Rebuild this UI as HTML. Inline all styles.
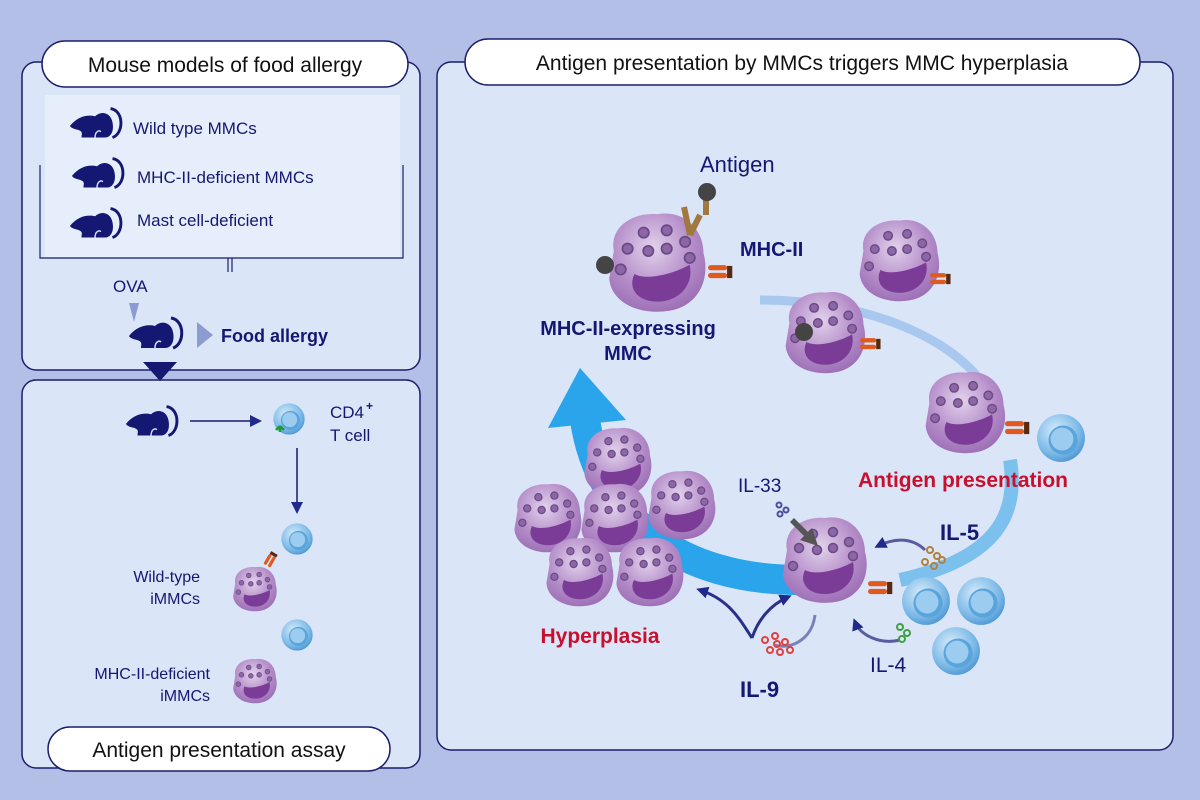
<!DOCTYPE html>
<html><head><meta charset="utf-8"><style>
html,body{margin:0;padding:0;background:#b3bfe7;}
svg{display:block;font-family:"Liberation Sans",Arial,sans-serif;}
</style></head><body>
<svg width="1200" height="800" viewBox="0 0 1200 800" xmlns="http://www.w3.org/2000/svg">
<defs>
<radialGradient id="cg" cx="0.45" cy="0.35" r="0.7">
<stop offset="0" stop-color="#e2d2ec"/><stop offset="0.6" stop-color="#b48cc8"/><stop offset="1" stop-color="#9a6cb4"/></radialGradient>
<radialGradient id="tg" cx="0.4" cy="0.35" r="0.7">
<stop offset="0" stop-color="#d8ecfb"/><stop offset="0.7" stop-color="#7ab8e6"/><stop offset="1" stop-color="#4a94d2"/></radialGradient>
<symbol id="cell" viewBox="-50 -50 100 100">
<path d="M-38,-10 C-42,-32 -20,-44 0,-42 C22,-46 40,-30 40,-8 C46,14 36,38 10,42 C-14,46 -40,36 -42,14 Z" fill="url(#cg)"/>
<path d="M-20,10 C-10,16 14,10 28,2 C32,20 18,34 0,34 C-18,34 -26,22 -20,10 Z" fill="#7a3c96"/>
<g fill="#8d66a6" stroke="#6a4a86" stroke-width="1.5">
<circle cx="-12" cy="-26" r="4.5"/><circle cx="8" cy="-28" r="4.5"/><circle cx="24" cy="-18" r="4.5"/>
<circle cx="-26" cy="-12" r="4.5"/><circle cx="-8" cy="-10" r="4.5"/><circle cx="8" cy="-12" r="4.5"/>
<circle cx="28" cy="-4" r="4.5"/><circle cx="-32" cy="6" r="4.5"/></g>
</symbol>
<symbol id="tcell" viewBox="-50 -50 100 100">
<circle r="46" fill="url(#tg)"/><circle cx="4" cy="4" r="28" fill="#5aa4dc"/><circle cx="2" cy="2" r="22" fill="#9cccef"/>
</symbol>
<symbol id="mouse" viewBox="0 0 60 36">
<path d="M2,20 C10,10 20,8 28,10 C34,4 44,6 46,16 C48,26 44,32 38,32 L14,32 C14,28 16,26 10,24 C6,23 3,22 2,20 Z" fill="#141872"/>
<path d="M44,2 C58,4 58,28 46,32" fill="none" stroke="#141872" stroke-width="3"/>
<path d="M28,32 C28,26 32,24 34,26" fill="none" stroke="#d4e0f6" stroke-width="1.5"/>
</symbol>
<symbol id="rec" viewBox="0 0 30 20">
<rect x="0" y="2" width="22" height="6" rx="3" fill="#e05a20"/><rect x="0" y="11" width="22" height="6" rx="3" fill="#e05a20"/>
<rect x="22" y="3" width="6" height="14" fill="#5a2a10"/></symbol>
<marker id="ah" markerUnits="userSpaceOnUse" markerWidth="12" markerHeight="12" refX="8" refY="6" orient="auto"><path d="M0,0 L12,6 L0,12 Z" fill="#202a8a"/></marker>
</defs>

<rect x="22" y="62" width="398" height="308" rx="14" fill="#dae5f8" stroke="#1b1f6a" stroke-width="1.5"/>
<rect x="45" y="95" width="355" height="162" fill="#e7eefb"/>
<path d="M40,165 V258 H403 V165 M228,258 V272 M232,258 V272" fill="none" stroke="#1b1f6a" stroke-width="1.2"/>
<rect x="42" y="41" width="366" height="46" rx="23" fill="#fff" stroke="#1b1f6a" stroke-width="1.5"/>
<text x="225" y="72" font-size="21" text-anchor="middle" fill="#111">Mouse models of food allergy</text>
<use href="#mouse" x="68" y="106" width="58" height="36"/>
<text x="133" y="134" font-size="17" fill="#141872">Wild type MMCs</text>
<use href="#mouse" x="70" y="156" width="58" height="36"/>
<text x="137" y="183" font-size="17" fill="#141872">MHC-II-deficient MMCs</text>
<use href="#mouse" x="68" y="206" width="58" height="36"/>
<text x="137" y="226" font-size="17" fill="#141872">Mast cell-deficient</text>
<text x="113" y="292" font-size="17" fill="#141872">OVA</text>
<path d="M129,303 L139,303 L134,322 Z" fill="#8c9cd2"/>
<use href="#mouse" x="127" y="316" width="60" height="36"/>
<path d="M197,322 L213,335 L197,348 Z" fill="#8c9cd2"/>
<text x="221" y="342" font-size="18" font-weight="bold" fill="#141872">Food allergy</text>

<rect x="22" y="380" width="398" height="388" rx="14" fill="#dae5f8" stroke="#1b1f6a" stroke-width="1.5"/>
<path d="M143,362 L177,362 L160,381 Z" fill="#141872"/>
<use href="#mouse" x="124" y="404" width="58" height="36"/>
<line x1="190" y1="421" x2="258" y2="421" stroke="#141872" stroke-width="1.5" marker-end="url(#ah)"/>
<use href="#tcell" x="272" y="402" width="34" height="34"/>
<path d="M276,430 l4,-4 m0,0 l4,4 m-4,-4 v6" stroke="#1a9a3a" stroke-width="2.5" fill="none"/>
<text x="330" y="418" font-size="17" fill="#141872">CD4</text><text x="366" y="410" font-size="12" font-weight="bold" fill="#141872">+</text>
<text x="330" y="441" font-size="17" fill="#141872">T cell</text>
<line x1="297" y1="448" x2="297" y2="510" stroke="#141872" stroke-width="1.5" marker-end="url(#ah)"/>
<use href="#tcell" x="280" y="522" width="34" height="34"/>
<use href="#rec" x="263" y="553" width="16" height="12" transform="rotate(-60 271 559)"/>
<use href="#cell" x="229" y="563" width="52" height="52"/>
<text x="200" y="582" font-size="16" text-anchor="end" fill="#141872">Wild-type</text>
<text x="200" y="604" font-size="16" text-anchor="end" fill="#141872">iMMCs</text>
<use href="#tcell" x="280" y="618" width="34" height="34"/>
<use href="#cell" x="229" y="655" width="52" height="52"/>
<text x="210" y="679" font-size="16" text-anchor="end" fill="#141872">MHC-II-deficient</text>
<text x="210" y="701" font-size="16" text-anchor="end" fill="#141872">iMMCs</text>
<rect x="48" y="727" width="342" height="44" rx="22" fill="#fff" stroke="#1b1f6a" stroke-width="1.5"/>
<text x="219" y="757" font-size="21" text-anchor="middle" fill="#111">Antigen presentation assay</text>

<rect x="437" y="62" width="736" height="688" rx="14" fill="#dae5f8" stroke="#1b1f6a" stroke-width="1.5"/>
<rect x="465" y="39" width="675" height="46" rx="23" fill="#fff" stroke="#1b1f6a" stroke-width="1.5"/>
<text x="802" y="70" font-size="21" text-anchor="middle" fill="#111">Antigen presentation by MMCs triggers MMC hyperplasia</text>

<path d="M760,300 C870,300 950,340 980,380" fill="none" stroke="#a8c8f0" stroke-width="9"/>
<path d="M1010,460 C1020,520 990,560 900,580" fill="none" stroke="#7cc0ee" stroke-width="14"/>
<path d="M800,580 C680,580 600,520 585,420" fill="none" stroke="#2aa4ea" stroke-width="30"/>
<path d="M548,428 L580,368 L626,420 Z" fill="#2aa4ea"/>

<use href="#cell" x="600" y="205" width="115" height="115"/>
<path d="M690,235 l-6,-28 m6,28 l10,-20 m6,0 l0,-25" stroke="#a07840" stroke-width="6" fill="none"/>
<circle cx="707" cy="192" r="9" fill="#444"/>
<circle cx="605" cy="265" r="9" fill="#444"/>
<use href="#rec" x="708" y="262" width="26" height="20"/>
<text x="700" y="172" font-size="22" fill="#141872">Antigen</text>
<text x="740" y="256" font-size="20" font-weight="bold" fill="#141872">MHC-II</text>
<use href="#cell" x="852" y="213" width="95" height="95"/>
<use href="#rec" x="930" y="270" width="22" height="18"/>
<use href="#cell" x="778" y="285" width="95" height="95"/>
<circle cx="804" cy="332" r="9" fill="#444"/>
<use href="#rec" x="860" y="335" width="22" height="18"/>
<text x="628" y="335" font-size="20" font-weight="bold" text-anchor="middle" fill="#141872">MHC-II-expressing</text>
<text x="628" y="360" font-size="20" font-weight="bold" text-anchor="middle" fill="#141872">MMC</text>
<use href="#cell" x="918" y="365" width="95" height="95"/>
<use href="#rec" x="1005" y="418" width="26" height="20"/>
<use href="#tcell" x="1035" y="412" width="52" height="52"/>
<text x="963" y="487" font-size="21" font-weight="bold" text-anchor="middle" fill="#c8102e">Antigen presentation</text>

<use href="#cell" x="508" y="478" width="80" height="80"/>
<use href="#cell" x="578" y="422" width="80" height="80"/>
<use href="#cell" x="575" y="478" width="80" height="80"/>
<use href="#cell" x="642" y="465" width="80" height="80"/>
<use href="#cell" x="540" y="532" width="80" height="80"/>
<use href="#cell" x="610" y="532" width="80" height="80"/>
<text x="600" y="643" font-size="21" font-weight="bold" text-anchor="middle" fill="#c8102e">Hyperplasia</text>

<use href="#cell" x="775" y="510" width="100" height="100"/>
<use href="#rec" x="868" y="578" width="26" height="20"/>
<use href="#tcell" x="900" y="575" width="52" height="52"/>
<use href="#tcell" x="955" y="575" width="52" height="52"/>
<use href="#tcell" x="930" y="625" width="52" height="52"/>
<text x="738" y="492" font-size="19" fill="#141872">IL-33</text>
<g fill="none" stroke="#4a50a0" stroke-width="2"><circle cx="779" cy="505" r="2.5"/><circle cx="786" cy="510" r="2.5"/><circle cx="780" cy="514" r="2.5"/></g>
<path d="M790,522 L804,536 L800,540 L818,546 L812,528 L808,532 L794,518 Z" fill="#555"/>
<text x="940" y="540" font-size="22" font-weight="bold" fill="#141872">IL-5</text>
<path d="M925,550 C910,535 890,540 878,546" fill="none" stroke="#5a5aa0" stroke-width="3" marker-end="url(#ah)"/>
<g fill="none" stroke="#b08040" stroke-width="2"><circle cx="930" cy="550" r="3"/><circle cx="937" cy="556" r="3"/><circle cx="925" cy="562" r="3"/><circle cx="934" cy="566" r="3"/><circle cx="942" cy="560" r="3"/></g>
<text x="870" y="672" font-size="21" fill="#141872">IL-4</text>
<path d="M900,640 C880,645 860,635 855,622" fill="none" stroke="#5a5aa0" stroke-width="3" marker-end="url(#ah)"/>
<g fill="none" stroke="#40a040" stroke-width="2"><circle cx="900" cy="627" r="3"/><circle cx="907" cy="633" r="3"/><circle cx="902" cy="639" r="3"/></g>
<text x="740" y="697" font-size="22" font-weight="bold" fill="#141872">IL-9</text>
<path d="M815,615 C812,640 790,650 775,645" fill="none" stroke="#7a80b8" stroke-width="3"/>
<path d="M752,638 C740,620 730,600 700,590" fill="none" stroke="#2a2f8a" stroke-width="3" marker-end="url(#ah)"/>
<path d="M752,638 C758,620 770,605 788,597" fill="none" stroke="#2a2f8a" stroke-width="3" marker-end="url(#ah)"/>
<g fill="none" stroke="#e04040" stroke-width="2"><circle cx="765" cy="640" r="3"/><circle cx="775" cy="636" r="3"/><circle cx="785" cy="642" r="3"/><circle cx="770" cy="650" r="3"/><circle cx="780" cy="652" r="3"/><circle cx="790" cy="650" r="3"/><circle cx="777" cy="644" r="3"/></g>
</svg>
</body></html>
